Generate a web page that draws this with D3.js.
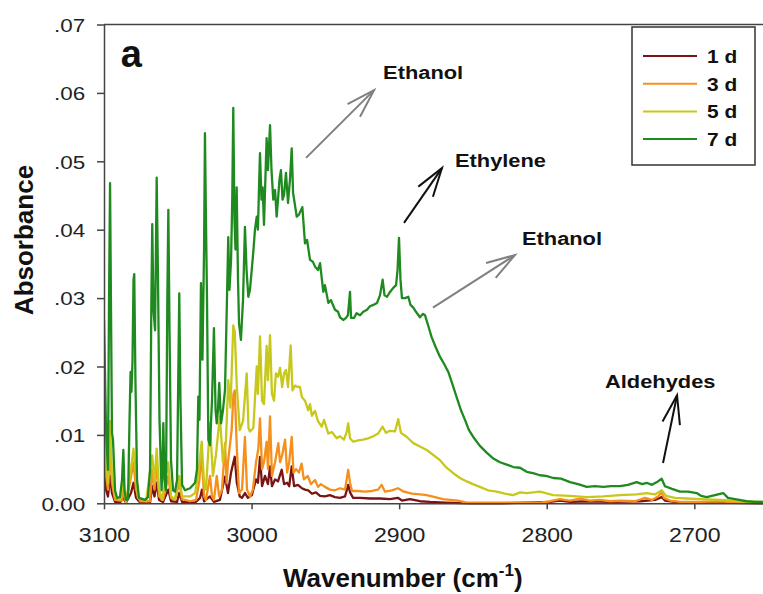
<!DOCTYPE html>
<html>
<head>
<meta charset="utf-8">
<script src="https://cdn.jsdelivr.net/npm/d3@7"></script>
<style>
  body { margin: 0; background: #fff; }
  svg { display: block; font-family: "Liberation Sans", Arial, sans-serif; }
</style>
</head>
<body>
<div id="chart"></div>
<script>
// series names / colours
const seriesNames = ["1 d", "3 d", "5 d", "7 d"];
const seriesColors = ["#7a1414", "#f5901c", "#c8c81c", "#1f8a1f"];

const xTicks = [3100, 3000, 2900, 2800, 2700];
const yTicks = [0, 0.01, 0.02, 0.03, 0.04, 0.05, 0.06, 0.07];
const yTickLabels = ["0.00", ".01", ".02", ".03", ".04", ".05", ".06", ".07"];

// [wavenumber, absorbance]
const s1d = [
  [3100, .005], [3098.6, .002], [3097.3, .001], [3095.9, .004], [3094.6, .0015], [3092.5, .0002],
  [3089.2, .0001], [3086.9, .0008], [3085.1, .0001], [3081.7, .0015], [3080.0, .003], [3078.3, .0008],
  [3075.6, .0001], [3068.8, .0001], [3067.3, .0025], [3065.8, .001], [3064.3, .003], [3062.7, .0005],
  [3060.0, .0002], [3056.4, .002], [3054.6, .0003], [3050.5, .0002], [3049.0, .0015], [3047.1, .0002],
  [3038.3, .0001], [3034.9, .0008], [3033.6, .002], [3032.2, .0003], [3028.2, .001], [3025.5, .0002],
  [3021.5, .0005], [3018.0, .0039], [3016.0, .0015], [3013.9, .0045], [3012.3, .006], [3011.4, .0068],
  [3010.0, .003], [3008.0, .001], [3006.5, .0008], [3004.5, .0015], [3002.5, .0008], [2999.8, .0012],
  [2997.0, .0035], [2995.7, .003], [2994.3, .0068], [2992.9, .0025], [2990.9, .004], [2988.9, .0028],
  [2987.5, .0054], [2986.2, .0025], [2984.1, .0035], [2982.1, .0032], [2979.6, .0049], [2978.0, .0028],
  [2975.9, .003], [2974.5, .0025], [2972.8, .0054], [2971.2, .0025], [2968.6, .0027], [2965.9, .0022],
  [2963.8, .002], [2961.6, .0019], [2959.1, .0014], [2956.4, .0016], [2953.6, .0011], [2950.3, .001],
  [2946.9, .0012], [2943.5, .0009], [2940.1, .0008], [2936.7, .001], [2934.5, .0027], [2933.3, .0016],
  [2931.2, .0008], [2926.5, .0008], [2919.8, .0007], [2913.0, .0007], [2906.2, .0006], [2900.9, .0008],
  [2898.1, .0004], [2892.7, .0006], [2885.9, .0003], [2879.1, .0002], [2868.9, .0001], [2852.0, 0],
  [2831.7, 0], [2797.8, .0002], [2791.1, .0004], [2784.2, .0002], [2770.7, .0003], [2757.1, .0002],
  [2736.8, .0003], [2726.6, .0005], [2722.1, .0009], [2719.9, .0004], [2709.7, .0001], [2682.6, .0001],
  [2653.5, 0]
];

const s3d = [
  [3100, .009], [3098.6, .004], [3097.3, .002], [3095.9, .008], [3094.6, .003], [3092.5, .0005],
  [3087.8, .0004], [3086.9, .002], [3085.1, .0002], [3082.4, .003], [3080.0, .006], [3078.3, .002],
  [3075.6, .0003], [3068.8, .0003], [3067.3, .005], [3065.8, .002], [3064.3, .006], [3062.7, .001],
  [3060.0, .0005], [3056.4, .004], [3054.6, .0008], [3051.9, .0005], [3049.0, .003], [3047.1, .0006],
  [3041.7, .0003], [3037.6, .0005], [3035.6, .003], [3033.8, .007], [3032.2, .001], [3030.9, .0005],
  [3028.2, .004], [3026.8, .001], [3025.5, .0005], [3023.6, .004], [3022.0, .001], [3020.0, .002],
  [3018.0, .0088], [3016.9, .003], [3016.0, .006], [3013.5, .0107], [3012.3, .016], [3011.4, .0165],
  [3010.0, .008], [3008.5, .0015], [3006.5, .002], [3004.5, .0097], [3003.1, .002], [3001.1, .001],
  [2999.1, .002], [2997.0, .006], [2995.4, .008], [2994.3, .0124], [2992.9, .005], [2991.6, .006],
  [2989.8, .009], [2988.9, .005], [2987.5, .0127], [2986.2, .004], [2984.1, .006], [2981.9, .0088],
  [2980.7, .006], [2979.3, .007], [2977.3, .0093], [2975.9, .0045], [2974.5, .006], [2972.8, .0097],
  [2971.6, .0045], [2969.9, .005], [2967.9, .0045], [2966.1, .0058], [2964.6, .0035], [2961.9, .004],
  [2959.8, .0028], [2957.0, .0034], [2955.0, .0024], [2953.0, .0028], [2950.3, .0024], [2946.9, .002],
  [2943.5, .0019], [2940.1, .0022], [2936.7, .002], [2934.5, .0049], [2933.3, .003], [2931.9, .0018],
  [2927.9, .0018], [2923.2, .0017], [2918.4, .0018], [2914.3, .002], [2911.9, .0027], [2909.6, .0017],
  [2904.9, .0019], [2900.9, .0022], [2896.7, .0017], [2891.4, .0014], [2885.9, .0013], [2881.4, .0012],
  [2875.7, .0009], [2870.3, .0006], [2865.6, .0005], [2860.1, .0004], [2854.2, .0001], [2845.3, .0001],
  [2831.7, .0001], [2818.1, .0001], [2804.6, .0001], [2797.8, .0003], [2791.1, .0006], [2784.2, .0004],
  [2777.5, .0007], [2770.7, .0004], [2763.9, .0005], [2757.1, .0003], [2750.4, .0004], [2740.2, .0003],
  [2733.4, .0008], [2728.7, .0005], [2724.6, .001], [2722.1, .0016], [2720.6, .0008], [2716.5, .0004],
  [2709.7, .0002], [2696.1, .0002], [2682.6, .0003], [2669.0, .0001], [2653.5, .0001]
];

const s5d = [
  [3100, .0151], [3098.6, .006], [3097.3, .003], [3095.9, .012], [3094.6, .004], [3092.5, .001],
  [3089.2, .0005], [3086.9, .003], [3085.1, .0003], [3082.4, .004], [3080.0, .008], [3078.7, .005],
  [3077.0, .0008], [3071.5, .0003], [3067.3, .007], [3065.8, .003], [3064.3, .008], [3062.7, .002],
  [3060.7, .0005], [3056.4, .006], [3054.6, .001], [3051.9, .0006], [3049.0, .004], [3047.1, .001],
  [3041.7, .001], [3038.3, .0015], [3036.3, .004], [3033.8, .009], [3032.2, .003], [3030.9, .002],
  [3028.2, .0117], [3026.2, .004], [3024.2, .007], [3021.5, .0127], [3019.4, .006], [3017.4, .009],
  [3015.8, .018], [3014.3, .014], [3012.4, .026], [3011.4, .0251], [3010.0, .017], [3008.0, .0107],
  [3005.8, .012], [3003.3, .019], [3002.1, .011], [3001.1, .0105], [2998.8, .011], [2996.5, .02],
  [2995.7, .016], [2994.3, .0244], [2992.9, .015], [2991.6, .0145], [2989.8, .023], [2988.9, .018],
  [2987.5, .0246], [2986.2, .016], [2984.8, .015], [2983.5, .019], [2982.1, .0185], [2980.7, .0198],
  [2979.3, .017], [2978.0, .019], [2976.7, .0195], [2975.3, .017], [2973.5, .0231], [2972.3, .0165],
  [2970.6, .0172], [2968.6, .017], [2967.2, .017], [2965.9, .0155], [2963.8, .015], [2961.6, .0136],
  [2960.4, .0145], [2959.1, .0128], [2957.0, .0135], [2955.0, .012], [2952.5, .0112], [2950.9, .0122],
  [2948.0, .0102], [2945.5, .0104], [2942.3, .0095], [2940.1, .0098], [2937.4, .0093], [2935.6, .0104],
  [2934.5, .0117], [2933.3, .0095], [2931.1, .009], [2927.9, .0092], [2924.3, .0093], [2921.1, .0095],
  [2917.5, .0098], [2914.3, .0102], [2911.2, .0112], [2908.9, .0103], [2906.2, .0106], [2902.8, .0105],
  [2900.6, .0123], [2898.8, .0103], [2895.4, .0098], [2890.4, .0088], [2885.9, .0083], [2881.4, .0078],
  [2877.1, .0071], [2872.3, .0063], [2868.3, .0053], [2863.3, .0044], [2858.8, .0037], [2854.2, .0032],
  [2850.0, .0028], [2845.3, .0024], [2839.8, .0019], [2833.9, .0017], [2828.3, .0014], [2822.7, .0012],
  [2818.1, .0016], [2813.6, .0015], [2804.6, .0017], [2795.6, .0012], [2784.2, .0011], [2772.9, .0009],
  [2761.7, .001], [2750.4, .0012], [2739.0, .0013], [2732.3, .0015], [2726.6, .0013], [2722.1, .0019],
  [2719.2, .0011], [2713.1, .0008], [2705.2, .0007], [2696.1, .0006], [2682.6, .0005], [2669.0, .0003],
  [2653.5, .0002]
];

const s7d = [
  [3100, .0268], [3098.6, .0107], [3097.3, .0049], [3096.6, .0297], [3095.9, .0468], [3095.3, .0297],
  [3094.6, .0103], [3093.9, .0093], [3092.5, .0019], [3091.2, .0008], [3089.2, .0009], [3087.8, .0034],
  [3086.9, .0078], [3086.1, .0019], [3085.1, .0005], [3083.7, .0006], [3082.7, .0122], [3082.0, .0192],
  [3081.4, .0163], [3080.7, .0207], [3080.0, .0327], [3079.5, .0335], [3078.7, .018], [3077.6, .0034],
  [3076.3, .0008], [3072.2, .0005], [3070.2, .0009], [3068.8, .0049], [3067.9, .0297], [3067.3, .0408],
  [3066.5, .0283], [3065.4, .0253], [3064.3, .0476], [3063.4, .0327], [3062.4, .0122], [3061.0, .0019],
  [3060.4, .0049], [3059.8, .0117], [3059.0, .0034], [3058.0, .0019], [3057.1, .0297], [3056.4, .0429],
  [3055.6, .0253], [3054.6, .0063], [3053.2, .0019], [3051.9, .0017], [3050.5, .0034], [3049.7, .018],
  [3049.0, .0307], [3048.2, .0151], [3047.1, .0027], [3045.1, .0019], [3041.7, .0022], [3038.3, .003],
  [3037.0, .0049], [3036.1, .0156], [3035.3, .0122], [3034.3, .0322], [3033.3, .021], [3032.2, .0371],
  [3031.6, .0541], [3030.9, .0414], [3030.2, .0297], [3029.3, .0093], [3028.2, .0085], [3026.8, .0151],
  [3025.5, .0256], [3024.4, .0136], [3023.6, .0117], [3022.8, .0136], [3021.9, .0176], [3020.7, .0117],
  [3019.4, .0136], [3018.0, .0166], [3016.7, .0297], [3015.8, .0389], [3015.0, .0312], [3013.9, .0356],
  [3013.1, .0444], [3012.4, .0578], [3011.6, .0414], [3010.9, .0371], [3010.1, .0462], [3009.2, .0327],
  [3008.5, .0263], [3007.2, .0239], [3005.8, .0297], [3004.5, .0404], [3003.4, .0341], [3002.2, .0302],
  [3001.1, .0312], [2999.9, .0341], [2998.7, .0371], [2997.7, .04], [2996.5, .0419], [2995.7, .04],
  [2995.0, .0458], [2994.3, .0512], [2993.3, .0444], [2992.5, .0462], [2991.6, .0407], [2989.8, .0534],
  [2988.9, .0487], [2987.5, .0553], [2986.5, .0487], [2985.3, .0444], [2984.1, .0458], [2983.0, .0419],
  [2982.1, .0444], [2981.1, .0473], [2980.1, .0487], [2979.0, .0444], [2978.0, .0451], [2976.7, .0483],
  [2975.3, .0439], [2974.0, .0473], [2972.8, .0519], [2971.9, .0454], [2970.6, .0436], [2969.4, .0419],
  [2967.9, .0422], [2965.6, .0433], [2963.8, .038], [2962.4, .0385], [2960.4, .0356], [2958.4, .0353],
  [2957.0, .0346], [2955.0, .0341], [2953.6, .0351], [2951.4, .0309], [2950.3, .0319], [2948.0, .0293],
  [2946.2, .0297], [2943.5, .0283], [2941.4, .028], [2940.1, .0272], [2937.9, .0268], [2936.0, .0271],
  [2934.7, .0275], [2933.3, .0309], [2932.6, .0271], [2930.6, .0271], [2928.8, .0278], [2926.5, .0275],
  [2924.3, .028], [2921.8, .0283], [2919.8, .0288], [2917.5, .029], [2915.0, .0293], [2913.0, .0304],
  [2911.2, .0327], [2909.9, .0304], [2908.2, .0302], [2906.2, .0309], [2904.0, .0315], [2902.1, .0319],
  [2901.1, .0341], [2900.1, .0388], [2899.1, .0327], [2898.1, .03], [2896.0, .03], [2893.8, .0302],
  [2892.3, .029], [2890.4, .0286], [2888.6, .028], [2885.9, .0272], [2883.8, .0277], [2882.5, .0275],
  [2880.5, .0261], [2878.0, .0243], [2875.0, .0227], [2872.3, .0214], [2869.6, .0204], [2866.7, .0192],
  [2864.2, .0176], [2861.0, .0155], [2858.1, .0136], [2855.4, .0122], [2852.7, .0107], [2849.8, .0097],
  [2845.3, .0084], [2840.7, .0074], [2836.5, .0066], [2831.7, .006], [2827.6, .0057], [2822.7, .0053],
  [2818.1, .0052], [2813.6, .0046], [2809.3, .0044], [2804.6, .0041], [2800.5, .004], [2795.6, .0037],
  [2790.3, .0036], [2784.2, .0031], [2778.8, .0028], [2772.9, .0024], [2767.3, .0025], [2761.7, .0024],
  [2756.5, .0025], [2750.4, .0025], [2745.0, .0027], [2739.0, .0031], [2735.4, .0028], [2732.3, .003],
  [2728.7, .0027], [2725.3, .0031], [2722.1, .0036], [2719.9, .0025], [2715.1, .0021], [2709.7, .0017],
  [2704.3, .0017], [2698.4, .0015], [2695.5, .0011], [2691.6, .0009], [2686.0, .0012], [2680.4, .0015],
  [2677.2, .0008], [2672.4, .0006], [2664.5, .0003], [2658.9, .0002], [2653.5, .0002]
];

const seriesData = [s1d, s3d, s5d, s7d];

// arrow annotations: tail, head and label anchor in data units
const annotations = [
  { label: "Ethanol", from: [2963.1, .0505], to: [2917.0, .0604], text: [2910.9, .0621], color: "#808080" },
  { label: "Ethylene", from: [2896.7, .0410], to: [2871.0, .0490], text: [2862.2, .0492], color: "#111" },
  { label: "Ethanol", from: [2877.1, .0286], to: [2821.5, .0363], text: [2816.8, .0378], color: "#808080" },
  { label: "Aldehydes", from: [2721.2, .0059], to: [2711.7, .0158], text: [2760.5, .0169], color: "#111" }
];

const width = 763, height = 594;
const svg = d3.select("#chart").append("svg")
    .attr("width", width)
    .attr("height", height);

const x = d3.scaleLinear().domain([3100, 2650]).range([104, 768.1]);
const y = d3.scaleLinear().domain([0, 0.07]).range([503.3, 24.5]);

svg.append("clipPath").attr("id", "plot-clip")
  .append("rect")
    .attr("x", 104).attr("y", 20)
    .attr("width", width - 104).attr("height", 486);

// series lines
const line = d3.line()
    .x(d => x(d[0]))
    .y(d => y(d[1]));

svg.append("g")
    .attr("clip-path", "url(#plot-clip)")
  .selectAll("path")
  .data(seriesData)
  .enter()
  .append("path")
    .attr("d", line)
    .attr("fill", "none")
    .attr("stroke", (d, i) => seriesColors[i])
    .attr("stroke-width", 2.3)
    .attr("stroke-linejoin", "round");

// axes
const yAxis = svg.append("g")
    .attr("transform", "translate(104,0)")
    .call(d3.axisLeft(y).tickValues(yTicks)
        .tickFormat((d, i) => yTickLabels[i])
        .tickSize(7).tickSizeOuter(0));

yAxis.selectAll("text")
    .attr("x", -16)
    .attr("dy", "0.36em")
    .attr("transform", "scale(1.18,1)")
    .attr("font-size", 19)
    .attr("fill", "#222");

const xAxis = svg.append("g")
    .attr("transform", "translate(0,503.3)")
    .call(d3.axisBottom(x).tickValues(xTicks)
        .tickFormat(d3.format("d"))
        .tickSize(6).tickSizeOuter(0));

xAxis.selectAll("text")
    .attr("y", 24)
    .attr("transform", "scale(1.1,1)")
    .attr("font-size", 21)
    .attr("fill", "#222");

svg.selectAll(".domain, .tick line")
    .attr("stroke", "#444")
    .attr("stroke-width", 1.5);

// top frame line
svg.append("line")
    .attr("x1", 104).attr("x2", width)
    .attr("y1", y(0.07)).attr("y2", y(0.07))
    .attr("stroke", "#444")
    .attr("stroke-width", 1.5);

// axis titles
svg.append("text")
    .attr("transform", "translate(33,240) rotate(-90)")
    .attr("text-anchor", "middle")
    .attr("font-size", 26)
    .attr("font-weight", "bold")
    .attr("fill", "#111")
    .text("Absorbance");

const xTitle = svg.append("text")
    .attr("x", 283).attr("y", 587)
    .attr("font-size", 26)
    .attr("font-weight", "bold")
    .attr("fill", "#111");
xTitle.append("tspan").text("Wavenumber (cm");
xTitle.append("tspan").attr("dy", -11).attr("font-size", 17).text("-1");
xTitle.append("tspan").attr("dy", 11).text(")");

// panel letter
svg.append("text")
    .attr("x", x(3088.7)).attr("y", y(0.0638))
    .attr("font-size", 38)
    .attr("font-weight", "bold")
    .attr("fill", "#111")
    .text("a");

// annotations
const ann = svg.selectAll(".ann")
    .data(annotations)
    .enter()
    .append("g")
    .attr("class", "ann");

ann.append("line")
    .attr("x1", d => x(d.from[0])).attr("y1", d => y(d.from[1]))
    .attr("x2", d => x(d.to[0])).attr("y2", d => y(d.to[1]))
    .attr("stroke", d => d.color)
    .attr("stroke-width", 2);

ann.append("path")
    .attr("d", d => {
        const x1 = x(d.from[0]), y1 = y(d.from[1]);
        const x2 = x(d.to[0]), y2 = y(d.to[1]);
        const ang = Math.atan2(y1 - y2, x1 - x2);
        const len = 30, spread = 0.3;
        const a = [x2 + len * Math.cos(ang + spread), y2 + len * Math.sin(ang + spread)];
        const b = [x2 + len * Math.cos(ang - spread), y2 + len * Math.sin(ang - spread)];
        return `M${a[0]},${a[1]}L${x2},${y2}L${b[0]},${b[1]}`;
    })
    .attr("fill", "none")
    .attr("stroke", d => d.color)
    .attr("stroke-width", 2);

ann.append("text")
    .attr("transform", d => `translate(${x(d.text[0])},${y(d.text[1])}) scale(1.15,1)`)
    .attr("font-size", 19)
    .attr("font-weight", "bold")
    .attr("fill", "#111")
    .text(d => d.label);

// legend
const legend = svg.append("g").attr("transform", "translate(632,27)");
legend.append("rect")
    .attr("width", 123).attr("height", 138)
    .attr("fill", "#fff")
    .attr("stroke", "#333")
    .attr("stroke-width", 1.5);

const item = legend.selectAll(".item")
    .data(seriesNames)
    .enter()
    .append("g")
    .attr("class", "item")
    .attr("transform", (d, i) => `translate(0,${29 + i * 27.7})`);

item.append("line")
    .attr("x1", 11).attr("x2", 65)
    .attr("stroke", (d, i) => seriesColors[i])
    .attr("stroke-width", 2);

item.append("text")
    .attr("transform", "translate(75,7) scale(1.1,1)")
    .attr("font-size", 19)
    .attr("font-weight", "bold")
    .attr("fill", "#111")
    .text(d => d);
</script>
</body>
</html>
